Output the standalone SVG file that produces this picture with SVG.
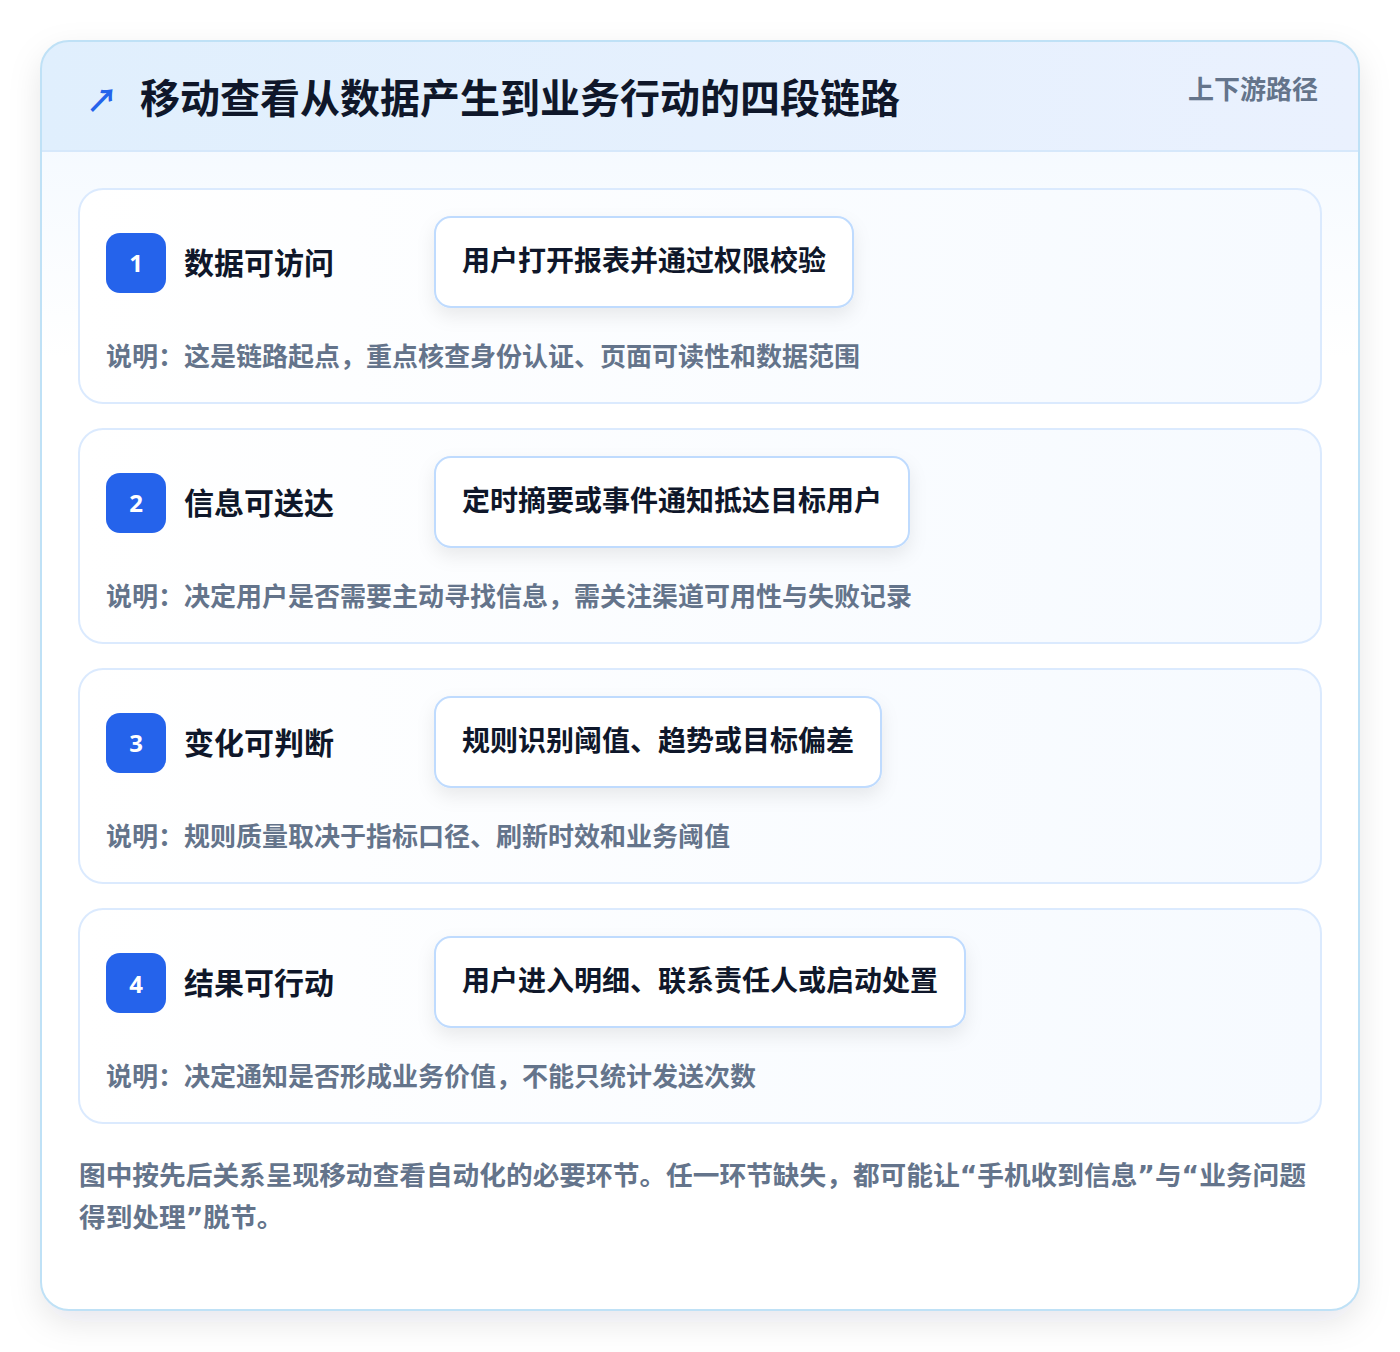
<svg xmlns="http://www.w3.org/2000/svg" width="1400" height="1352" viewBox="0 0 1400 1352">
<defs>
<linearGradient id="hdr" x1="0" y1="0" x2="1" y2="0"><stop offset="0" stop-color="#e0effd"/><stop offset="1" stop-color="#eaf1fe"/></linearGradient>
<linearGradient id="body" x1="0" y1="0" x2="0" y2="1"><stop offset="0" stop-color="#f0f7ff"/><stop offset="0.25" stop-color="#ffffff"/><stop offset="1" stop-color="#ffffff"/></linearGradient>
<linearGradient id="card" x1="0" y1="0" x2="1" y2="0"><stop offset="0" stop-color="#ffffff"/><stop offset="1" stop-color="#f6faff"/></linearGradient>
<filter id="sh" x="-10%" y="-10%" width="120%" height="120%"><feDropShadow dx="0" dy="12" stdDeviation="16" flood-color="#0f172a" flood-opacity="0.10"/></filter>
<filter id="bsh" x="-20%" y="-30%" width="140%" height="170%"><feDropShadow dx="0" dy="8" stdDeviation="9" flood-color="#0f172a" flood-opacity="0.08"/></filter>
<clipPath id="outer"><rect x="41" y="41" width="1318" height="1269" rx="28"/></clipPath>
</defs>
<style>
text{font-family:"Noto Sans CJK SC","Noto Sans",sans-serif;font-weight:700}
.card{fill:url(#card);stroke:#dbeafe;stroke-width:2}
.badge{fill:#2563eb}
.num{fill:#ffffff;font-family:"Noto Sans",sans-serif;font-size:24px;text-anchor:middle}
.ttl{fill:#0f172a;font-size:30px}
.box{fill:#ffffff;stroke:#bfdbfe;stroke-width:2;filter:url(#bsh)}
.btx{fill:#0f172a;font-size:28px}
.desc{fill:#64748b;font-size:26px}
.foot{fill:#64748b;font-size:26.7px}
.q{font-family:"DejaVu Sans",sans-serif}
</style>
<rect width="1400" height="1352" fill="#ffffff"/>
<g id="frame">
<rect x="41" y="41" width="1318" height="1269" rx="28" fill="#ffffff" filter="url(#sh)"/>
<g clip-path="url(#outer)">
<rect x="41" y="41" width="1318" height="1269" fill="url(#body)"/>
<rect x="41" y="41" width="1318" height="110" fill="url(#hdr)"/>
<line x1="41" y1="151" x2="1359" y2="151" stroke="#d6e8fb" stroke-width="2"/>
</g>
<rect x="41" y="41" width="1318" height="1269" rx="28" fill="none" stroke="#bfe1f6" stroke-width="2"/>
</g>
<g id="header">
<text x="86" y="112" font-size="32" fill="#2563eb" font-family="DejaVu Sans,sans-serif">↗</text>
<text x="140" y="113" font-size="40" fill="#0f172a">移动查看从数据产生到业务行动的四段链路</text>
<text x="1318" y="99" font-size="26" fill="#64748b" text-anchor="end">上下游路径</text>
</g>
<g id="connectors"></g>
<g id="step1">
<rect class="card" x="79" y="189" width="1242" height="214" rx="24"/>
<rect class="badge" x="106" y="233" width="60" height="60" rx="14"/>
<text class="num" x="136" y="272">1</text>
<text class="ttl" x="184" y="274">数据可访问</text>
<rect class="box" x="435" y="217" width="418" height="90" rx="16"/>
<text class="btx" x="462" y="271">用户打开报表并通过权限校验</text>
<text class="desc" x="106" y="366">说明：这是链路起点，重点核查身份认证、页面可读性和数据范围</text>
</g>
<g id="step2">
<rect class="card" x="79" y="429" width="1242" height="214" rx="24"/>
<rect class="badge" x="106" y="473" width="60" height="60" rx="14"/>
<text class="num" x="136" y="512">2</text>
<text class="ttl" x="184" y="514">信息可送达</text>
<rect class="box" x="435" y="457" width="474" height="90" rx="16"/>
<text class="btx" x="462" y="511">定时摘要或事件通知抵达目标用户</text>
<text class="desc" x="106" y="606">说明：决定用户是否需要主动寻找信息，需关注渠道可用性与失败记录</text>
</g>
<g id="step3">
<rect class="card" x="79" y="669" width="1242" height="214" rx="24"/>
<rect class="badge" x="106" y="713" width="60" height="60" rx="14"/>
<text class="num" x="136" y="752">3</text>
<text class="ttl" x="184" y="754">变化可判断</text>
<rect class="box" x="435" y="697" width="446" height="90" rx="16"/>
<text class="btx" x="462" y="751">规则识别阈值、趋势或目标偏差</text>
<text class="desc" x="106" y="846">说明：规则质量取决于指标口径、刷新时效和业务阈值</text>
</g>
<g id="step4">
<rect class="card" x="79" y="909" width="1242" height="214" rx="24"/>
<rect class="badge" x="106" y="953" width="60" height="60" rx="14"/>
<text class="num" x="136" y="993">4</text>
<text class="ttl" x="184" y="994">结果可行动</text>
<rect class="box" x="435" y="937" width="530" height="90" rx="16"/>
<text class="btx" x="462" y="991">用户进入明细、联系责任人或启动处置</text>
<text class="desc" x="106" y="1086">说明：决定通知是否形成业务价值，不能只统计发送次数</text>
</g>
<g id="footer">
<text class="foot" x="79" y="1185">图中按先后关系呈现移动查看自动化的必要环节。任一环节缺失，都可能让<tspan class="q">“</tspan>手机收到信息<tspan class="q">”</tspan>与<tspan class="q">“</tspan>业务问题</text>
<text class="foot" x="79" y="1227">得到处理<tspan class="q">”</tspan>脱节。</text>
</g>
</svg>
